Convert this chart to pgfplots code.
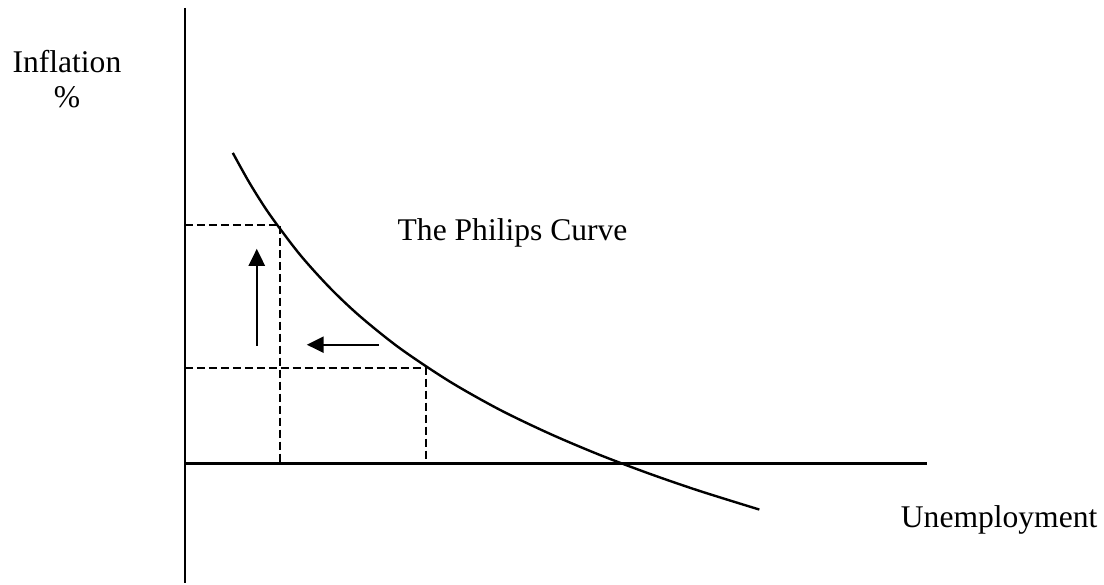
\documentclass[border=0pt]{standalone}
\usepackage{fontspec}
\setmainfont{Liberation Serif}
\usepackage{pgfplots}
\pgfplotsset{compat=1.18}
\usetikzlibrary{arrows.meta}
\begin{document}
\begin{tikzpicture}
\begin{axis}[
  width=552pt, height=292.5pt, scale only axis,
  xmin=0, xmax=1104, ymin=0, ymax=585,
  hide axis, clip=false,
]
\path (axis cs:0,0) rectangle (axis cs:1104,585);
% axes
\addplot[black, line width=1.2pt] coordinates {(185,577) (185,1)};
\addplot[black, line width=1.2pt] coordinates {(185,121) (928,121)};
% dashed guides
\addplot[black, line width=0.9pt, dash pattern=on 4pt off 2pt] coordinates {(185,360) (280,360) (280,121)};
\addplot[black, line width=0.9pt, dash pattern=on 4pt off 2pt] coordinates {(185,217) (426,217) (426,121)};
% curve
\addplot[black, line width=1.2pt, smooth, tension=0.5] coordinates {
 (233,432) (250,401.5) (270,370.2) (300,330.4) (330,297.1) (360,268.7) (400,236.6)
 (450,203.2) (500,175) (550,151) (600,129.8) (650,110.9) (700,93.7) (760,75)};
% arrows
\addplot[black, line width=1.2pt, -{Triangle[length=8.5pt,width=8pt]}] coordinates {(257,239) (257,336)};
\addplot[black, line width=1.2pt, -{Triangle[length=8.5pt,width=8pt]}] coordinates {(379,240) (307,240)};
% labels
\node[anchor=base, font=\fontsize{15.8}{19}\selectfont] at (axis cs:67,512) {Inflation};
\node[anchor=base, font=\fontsize{15.8}{19}\selectfont] at (axis cs:67,477) {\%};
\node[anchor=base, font=\fontsize{15.8}{19}\selectfont] at (axis cs:513,344) {The Philips Curve};
\node[anchor=base, font=\fontsize{15.8}{19}\selectfont] at (axis cs:1000,57) {Unemployment};
\end{axis}
\end{tikzpicture}
\end{document}
